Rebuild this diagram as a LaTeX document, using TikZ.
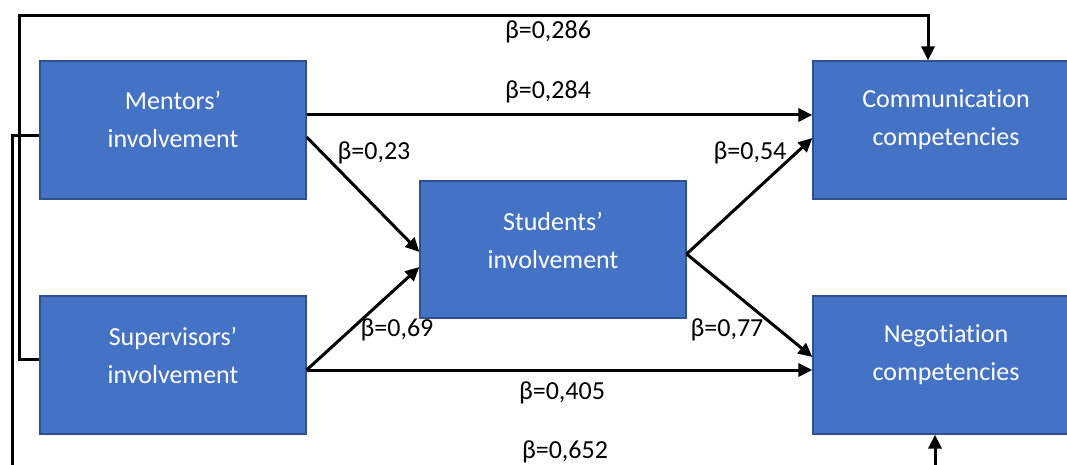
\documentclass[tikz,border=0pt]{standalone}
\usepackage{fontspec}
\setmainfont[Ligatures=NoCommon]{Carlito}
\usetikzlibrary{arrows.meta}
\begin{document}
\begin{tikzpicture}[x=1pt,y=1pt,
  block/.style={draw=edgeColor,line width=1.2pt,fill=fillColor,minimum width=266pt,minimum height=138pt,inner sep=0pt},
  blocktext/.style={text=white,align=center,inner sep=0pt,font=\fontsize{26}{38}\selectfont},
  link/.style={draw=black,line width=3pt,-{Triangle[length=14pt,width=13pt]}},
  beta/.style={text=black,inner sep=0pt,font=\fontsize{26}{30}\selectfont}]
\definecolor{fillColor}{RGB}{68,114,196}
\definecolor{edgeColor}{RGB}{47,82,143}
\path[use as bounding box,fill=white] (0,0) rectangle (1067,464);
\begin{scope}
\clip (0,0) rectangle (1067,464);

\node[block] (ment) at (173,334) {};
\node[block] (sup) at (173,99) {};
\node[block,minimum height=137pt] (stud) at (553,214.5) {};
\node[block] (comm) at (946,334) {};
\node[block] (negot) at (946,99) {};

\node[blocktext] (ment-t) at (173,345) {Mentors’\\involvement};
\node[blocktext] (sup-t) at (173,108.5) {Supervisors’\\involvement};
\node[blocktext] (stud-t) at (553,223.5) {Students’\\involvement};
\node[blocktext] (comm-t) at (946,344) {Communication\\competencies};
\node[blocktext] (negot-t) at (946,109) {Negotiation\\competencies};

\coordinate (topleft) at (19,448);
\coordinate (botleft) at (12,-20);

\path[link] ([yshift=15pt]ment.east) -- ([yshift=15pt]comm.west);
\path[link] ([yshift=-7pt]ment.east) -- ([yshift=-2.5pt]stud.west);
\path[link] ([yshift=-5pt]sup.east) -- ([yshift=-17.5pt]stud.west);
\path[link] ([yshift=-5pt]sup.east) -- ([yshift=-5pt]negot.west);
\path[link] ([yshift=-4.5pt]stud.east) -- ([yshift=-8pt]comm.west);
\path[link] ([yshift=-4.5pt]stud.east) -- ([yshift=8pt]negot.west);
\path[link] ([yshift=6pt]sup.west) -| (topleft) -| ([xshift=-18pt]comm.north);
\path[link] ([yshift=-6pt]ment.west) -| (botleft) -| ([xshift=-11pt]negot.south);

\node[beta] (b286) at (548,432) {β=0,286};
\node[beta] (b284) at (548,372) {β=0,284};
\node[beta] (b23) at (374,311) {β=0,23};
\node[beta] (b54) at (750,311) {β=0,54};
\node[beta] (b69) at (397,134) {β=0,69};
\node[beta] (b77) at (727,134) {β=0,77};
\node[beta] (b405) at (562,71) {β=0,405};
\node[beta] (b652) at (565,12) {β=0,652};
\end{scope}
\end{tikzpicture}
\end{document}
